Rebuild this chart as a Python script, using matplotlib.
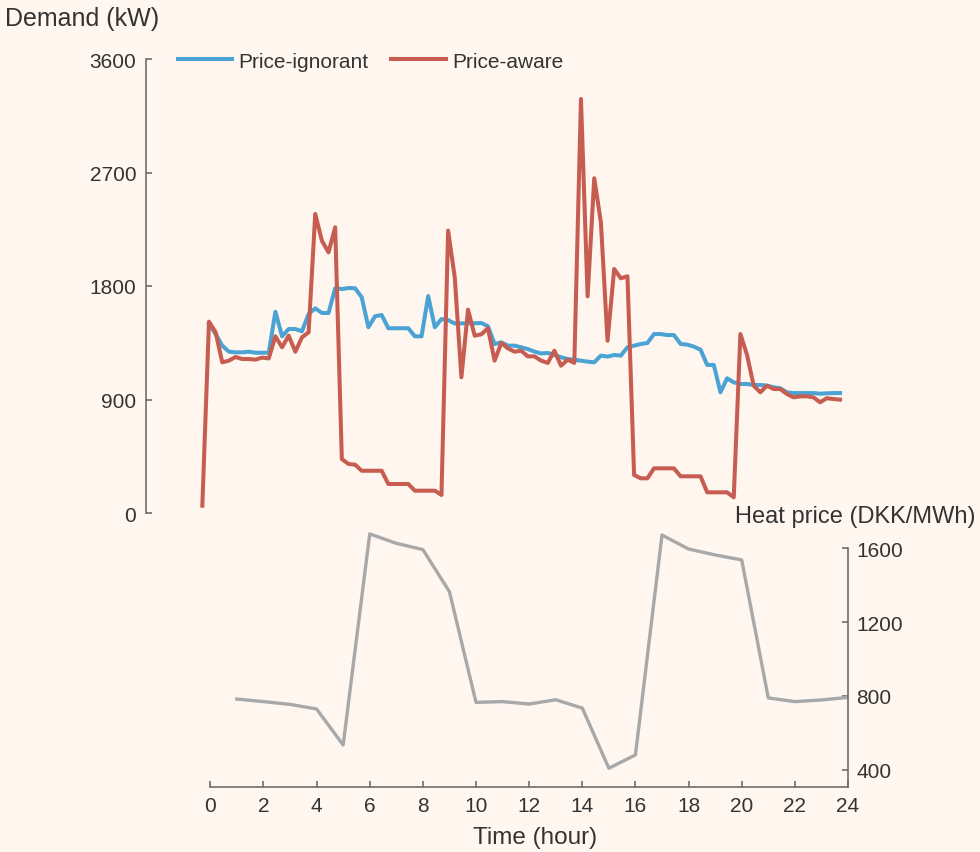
import numpy as np
import matplotlib.pyplot as plt

plt.rcParams['font.family'] = ['Liberation Sans', 'DejaVu Sans']

# demand in 15-minute steps (kW); the aware series starts one step earlier
step_hours = np.arange(97) * 0.25 - 0.3
price_aware = [58, 1517, 1433, 1195, 1208, 1237, 1221, 1221, 1216, 1232,
               1226, 1401, 1314, 1406, 1279, 1393, 1433, 2371, 2159, 2067,
               2266, 428, 389, 383, 335, 335, 335, 335, 230, 230,
               230, 230, 177, 177, 177, 177, 143, 2239, 1869, 1076,
               1612, 1406, 1417, 1465, 1208, 1348, 1306, 1279, 1287, 1242,
               1242, 1208, 1190, 1287, 1168, 1216, 1190, 3283, 1718, 2654,
               2305, 1366, 1935, 1861, 1877, 301, 275, 275, 354, 354,
               354, 354, 291, 291, 291, 291, 164, 164, 164, 164,
               124, 1419, 1253, 1010, 957, 1010, 983, 983, 944, 917,
               925, 925, 917, 878, 910, 904, 899]
price_ignorant = [1500, 1420, 1327, 1279, 1274, 1274, 1279, 1271, 1271, 1271,
                  1596, 1401, 1459, 1459, 1441, 1578, 1623, 1586, 1586, 1782,
                  1776, 1784, 1782, 1710, 1473, 1560, 1570, 1465, 1465, 1465,
                  1465, 1401, 1401, 1720, 1473, 1538, 1530, 1502, 1504, 1504,
                  1504, 1507, 1480, 1340, 1353, 1327, 1327, 1314, 1300, 1280,
                  1265, 1269, 1253, 1235, 1221, 1216, 1208, 1200, 1195, 1248,
                  1240, 1253, 1248, 1314, 1327, 1340, 1348, 1419, 1419, 1411,
                  1411, 1340, 1335, 1319, 1295, 1174, 1174, 957, 1068, 1036,
                  1023, 1023, 1015, 1015, 1010, 997, 989, 957, 951, 951,
                  951, 951, 946, 949, 951, 951]

# hourly heat price (DKK/MWh)
price_hours = np.arange(1, 25)
heat_price = [783, 769, 754, 729, 534, 1678, 1627, 1593, 1365, 765,
              769, 756, 779, 734, 408, 480, 1672, 1596, 1564, 1537,
              789, 769, 778, 792]

demand_ticks = [0, 900, 1800, 2700, 3600]
price_ticks = [400, 800, 1200, 1600]
hour_ticks = list(range(0, 25, 2))

BG = '#fef6ef'
BLUE = '#4ba3d5'
RED = '#c65d50'
GREY = '#a8a8a8'
SPINE = '#6e6e6e'
TXT = '#333333'
W, H = 980, 853


def box(x0, y0, x1, y1):
    # pixel box (top-left origin) -> figure fraction
    return [x0 / W, 1 - y1 / H, (x1 - x0) / W, (y1 - y0) / H]


fig = plt.figure(figsize=(W / 100, H / 100), dpi=100, facecolor=BG)

x0_px, x24_px = 210.3, 848.0
hour_px = (x24_px - x0_px) / 24

# top panel: demand
ax = fig.add_axes(box(146, 60, x24_px, 514))
ax.set_facecolor('none')
ax.plot(step_hours[1:], price_ignorant, color=BLUE, lw=2.9, label='Price-ignorant')
ax.plot(step_hours, price_aware, color=RED, lw=2.9, label='Price-aware')
ax.set_xlim(-(x0_px - 146) / hour_px, 24)
ax.set_ylim(0, 3600)
ax.set_yticks(demand_ticks)
ax.set_xticks([])
for s in ['top', 'right', 'bottom']:
    ax.spines[s].set_visible(False)
ax.spines['left'].set_color(SPINE)
ax.spines['left'].set_linewidth(1.2)
ax.tick_params(axis='y', direction='in', length=4, width=1.2, color=SPINE,
               labelsize=15, labelcolor=TXT, pad=7)

# bottom panel: heat price
ymin = 400 - (788.3 - 770.7) * 1200 / 221.4
ymax = 1600 + (549.3 - 530) * 1200 / 221.4
bx = fig.add_axes(box(x0_px, 530, x24_px, 788.3))
bx.set_facecolor('none')
bx.plot(price_hours, heat_price, color=GREY, lw=2.4)
bx.set_xlim(0, 24)
bx.set_ylim(ymin, ymax)
bx.set_xticks(hour_ticks)
bx.set_yticks(price_ticks)
bx.yaxis.tick_right()
for s in ['top', 'left']:
    bx.spines[s].set_visible(False)
for s in ['right', 'bottom']:
    bx.spines[s].set_color(SPINE)
    bx.spines[s].set_linewidth(1.2)
bx.spines['right'].set_bounds(ymin, 1600)
bx.tick_params(direction='in', length=4, width=1.2, color=SPINE,
               labelsize=15, labelcolor=TXT, pad=6)

fig.legend(loc='center left', bbox_to_anchor=(178 / W, 1 - 62 / H), ncol=2,
           frameon=False, fontsize=15, handlelength=2.6, handletextpad=0.3,
           columnspacing=1.1, borderpad=0, borderaxespad=0, labelcolor=TXT)

fig.text(5 / W, 1 - 19 / H, 'Demand (kW)', fontsize=18, color=TXT,
         ha='left', va='center')
fig.text(975 / W, 1 - 517 / H, 'Heat price (DKK/MWh)', fontsize=17,
         color=TXT, ha='right', va='center')
fig.text(535.5 / W, 1 - 838 / H, 'Time (hour)', fontsize=17.5,
         color=TXT, ha='center', va='center')

fig.savefig('out.png', dpi=100, facecolor=BG)
